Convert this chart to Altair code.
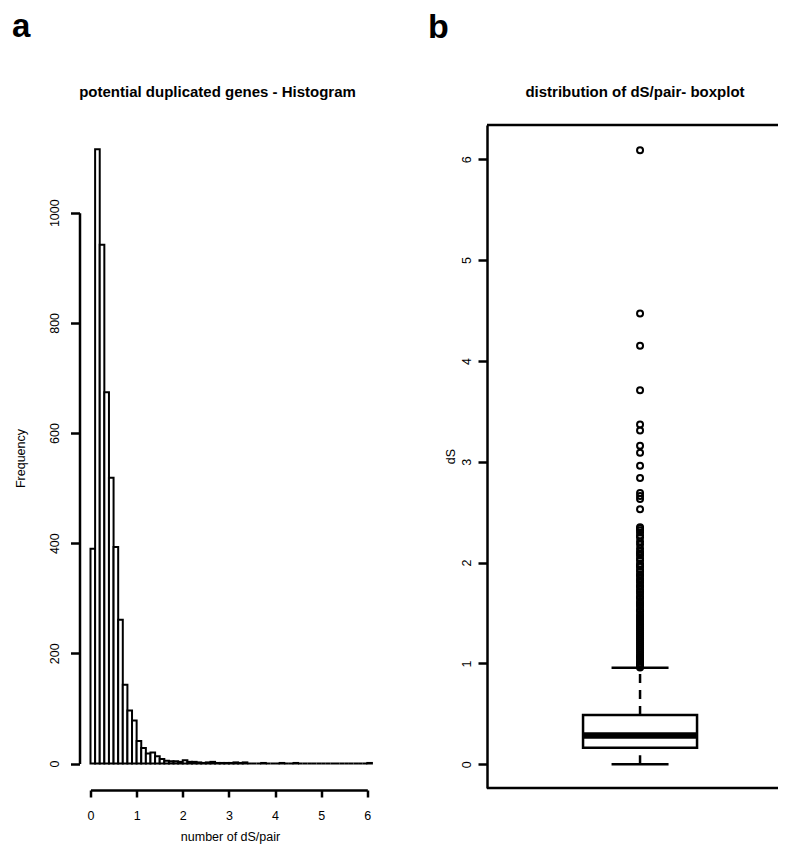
import altair as alt
import pandas as pd

FONT = "Liberation Sans"

# ---------------- data: histogram of dS per pair ----------------
bin_start = [0.0, 0.1, 0.2, 0.3, 0.4, 0.5, 0.6, 0.7, 0.8, 0.9,
             1.0, 1.1, 1.2, 1.3, 1.4, 1.5, 1.6, 1.7, 1.8, 1.9,
             2.0, 2.1, 2.2, 2.3, 2.4, 2.5, 2.6, 2.7, 2.8, 2.9,
             3.0, 3.1, 3.2, 3.3, 3.4, 3.5, 3.6, 3.7, 3.8, 3.9,
             4.0, 4.1, 4.2, 4.3, 4.4, 4.5, 4.6, 4.7, 4.8, 4.9,
             5.0, 5.1, 5.2, 5.3, 5.4, 5.5, 5.6, 5.7, 5.8, 5.9,
             6.0]
bin_width = 0.1
counts = [390, 1115, 942, 674, 519, 393, 261, 143, 96, 78,
          41, 28, 18, 20, 13, 8, 5, 4, 4, 3,
          6, 3, 3, 2, 1, 2, 3, 1, 1, 1,
          1, 2, 1, 2, 0, 0, 0, 1, 0, 0,
          0, 1, 0, 0, 1, 0, 0, 0, 0, 0,
          0, 0, 0, 0, 0, 0, 0, 0, 0, 0,
          1]
hist_x_ticks = [0, 1, 2, 3, 4, 5, 6]
hist_y_ticks = [0, 200, 400, 600, 800, 1000]

# ---------------- data: boxplot of dS ----------------
box_lower = 0.0
box_q1 = 0.165
box_median = 0.286
box_q3 = 0.489
box_upper = 0.958
outliers = [6.09, 4.47, 4.15, 3.71, 3.37, 3.31, 3.16, 3.09, 2.96, 2.84,
            2.69, 2.66, 2.63, 2.53, 2.35, 2.34, 2.32, 2.30, 2.27, 2.25,
            2.21, 2.18, 2.14, 2.11, 2.09, 2.07, 2.04, 2.02, 1.99, 1.97,
            1.96, 1.93, 1.91, 1.88, 1.87, 1.84, 1.82, 1.80, 1.77, 1.76,
            1.73, 1.71, 1.69, 1.66, 1.65, 1.62, 1.60, 1.58, 1.56, 1.53,
            1.52, 1.49, 1.47, 1.45, 1.43, 1.41, 1.39, 1.37, 1.35, 1.33,
            1.31, 1.29, 1.27, 1.25, 1.23, 1.21, 1.19, 1.17, 1.15, 1.13,
            1.11, 1.09, 1.07, 1.06, 1.04, 1.02, 1.00, 0.99, 0.97, 0.96]
box_y_ticks = [0, 1, 2, 3, 4, 5, 6]

# ---------------- frames ----------------
hist_df = pd.DataFrame({
    "start": bin_start,
    "end": [round(s + bin_width, 2) for s in bin_start],
    "count": counts,
})
CENTER, BOX_HALF, CAP_HALF = 1.0, 0.2, 0.1
box_df = pd.DataFrame([{
    "c": CENTER, "l": CENTER - BOX_HALF, "r": CENTER + BOX_HALF,
    "cl": CENTER - CAP_HALF, "cr": CENTER + CAP_HALF,
    "lo": box_lower, "q1": box_q1, "med": box_median, "q3": box_q3, "hi": box_upper,
}])
out_df = pd.DataFrame({"c": [CENTER] * len(outliers), "v": outliers})
dummy = pd.DataFrame({"k": [0]})

axis_style = dict(domainColor="black", domainWidth=2.5, tickColor="black",
                  tickWidth=2.5, labelFont=FONT, labelFontSize=12.5,
                  labelColor="black", titleFont=FONT, titleFontSize=12.5,
                  titleColor="black", titleFontWeight="normal", grid=False,
                  labelFlush=False, labelOverlap=False, format="d")


def text_layer(txt, x, y, size, weight, align="left"):
    return alt.Chart(dummy).mark_text(text=txt, font=FONT, fontSize=size, fontWeight=weight,
                                      align=align, baseline="alphabetic",
                                      color="black").encode(x=alt.value(x), y=alt.value(y))


# ---------------- panel a: histogram ----------------
W1, H1 = 305, 665
x_h = alt.Scale(domain=[0, 6], range=[11, 287.8], nice=False, zero=False)
y_h = alt.Scale(domain=[0, 1000], range=[638.5, 87.7], nice=False, zero=False)

bars = alt.Chart(hist_df).mark_rect(fill="white", stroke="black", strokeWidth=2).encode(
    x=alt.X("start:Q", scale=x_h,
            axis=alt.Axis(values=hist_x_ticks, tickSize=7, labelPadding=12,
                          labelBaseline="top", title="number of dS/pair",
                          titleX=150.5, titleY=50, titleAlign="center",
                          titleBaseline="alphabetic", **axis_style)),
    x2="end:Q",
    y=alt.Y("count:Q", scale=y_h,
            axis=alt.Axis(values=hist_y_ticks, tickSize=9, labelAngle=270,
                          labelAlign="center", labelBaseline="alphabetic",
                          labelPadding=12.5, title="Frequency", titleAngle=270,
                          titleX=-59.5, titleY=333, titleAlign="center",
                          titleBaseline="middle", **axis_style)),
    y2=alt.Y2(datum=0),
)
label_a = text_layer("a", -67.5, -88, 33, "bold")
title_a = text_layer("potential duplicated genes - Histogram", 138, -28, 15, "bold", "center")

hist = alt.layer(bars, label_a, title_a).properties(width=W1, height=H1)

# ---------------- panel b: boxplot ----------------
W2, H2 = 300, 663
x_b = alt.Scale(domain=[0.463, 0.463 + W2 / 285.0], nice=False, zero=False)
y_b = alt.Scale(domain=[-0.235, 6.340], nice=False, zero=False)
yax = alt.Axis(values=box_y_ticks, tickSize=9, labelAngle=270, labelAlign="center",
               labelBaseline="alphabetic", labelPadding=8, title="dS", titleAngle=270,
               titleX=-37, titleY=331, titleAlign="center", titleBaseline="middle",
               **axis_style)

base = alt.Chart(box_df)
rect = base.mark_rect(fill="white", stroke="black", strokeWidth=2.5).encode(
    x=alt.X("l:Q", scale=x_b, axis=None), x2="r:Q",
    y=alt.Y("q1:Q", scale=y_b, axis=yax), y2="q3:Q")
med = base.mark_rule(color="black", strokeWidth=6.5, strokeCap="butt").encode(
    x=alt.X("l:Q", scale=x_b, axis=None), x2="r:Q",
    y=alt.Y("med:Q", scale=y_b, axis=yax))
wh_up = base.mark_rule(color="black", strokeWidth=2.5, strokeDash=[9, 7]).encode(
    x=alt.X("c:Q", scale=x_b, axis=None),
    y=alt.Y("q3:Q", scale=y_b, axis=yax), y2="hi:Q")
wh_lo = base.mark_rule(color="black", strokeWidth=2.5, strokeDash=[9, 7]).encode(
    x=alt.X("c:Q", scale=x_b, axis=None),
    y=alt.Y("lo:Q", scale=y_b, axis=yax), y2="q1:Q")
cap_up = base.mark_rule(color="black", strokeWidth=2.5).encode(
    x=alt.X("cl:Q", scale=x_b, axis=None), x2="cr:Q",
    y=alt.Y("hi:Q", scale=y_b, axis=yax))
cap_lo = base.mark_rule(color="black", strokeWidth=2.5).encode(
    x=alt.X("cl:Q", scale=x_b, axis=None), x2="cr:Q",
    y=alt.Y("lo:Q", scale=y_b, axis=yax))
pts = alt.Chart(out_df).mark_point(shape="circle", filled=False, color="black",
                                   size=36, strokeWidth=2, opacity=1).encode(
    x=alt.X("c:Q", scale=x_b, axis=None),
    y=alt.Y("v:Q", scale=y_b, axis=yax))
frame_top = alt.Chart(dummy).mark_rule(color="black", strokeWidth=2.5).encode(
    x=alt.value(0), x2=alt.value(W2), y=alt.value(0))
frame_bot = alt.Chart(dummy).mark_rule(color="black", strokeWidth=2.5).encode(
    x=alt.value(0), x2=alt.value(W2), y=alt.value(H2))
label_b = text_layer("b", -59, -87, 34, "bold")
title_b = text_layer("distribution of dS/pair- boxplot", 148, -28, 15, "bold", "center")

box = alt.layer(rect, wh_up, wh_lo, cap_up, cap_lo, med, pts, frame_top, frame_bot,
                label_b, title_b).properties(width=W2, height=H2)

chart = alt.hconcat(hist, box, spacing=102.5, bounds="flush").properties(
    autosize=alt.AutoSizeParams(type="none"),
    padding={"left": 71.5, "top": 117, "right": 698.5, "bottom": 719},
).configure(font=FONT, background="white").configure_view(strokeWidth=0, stroke="transparent")

chart.save("out.html", embed_options={"renderer": "svg", "actions": False})
